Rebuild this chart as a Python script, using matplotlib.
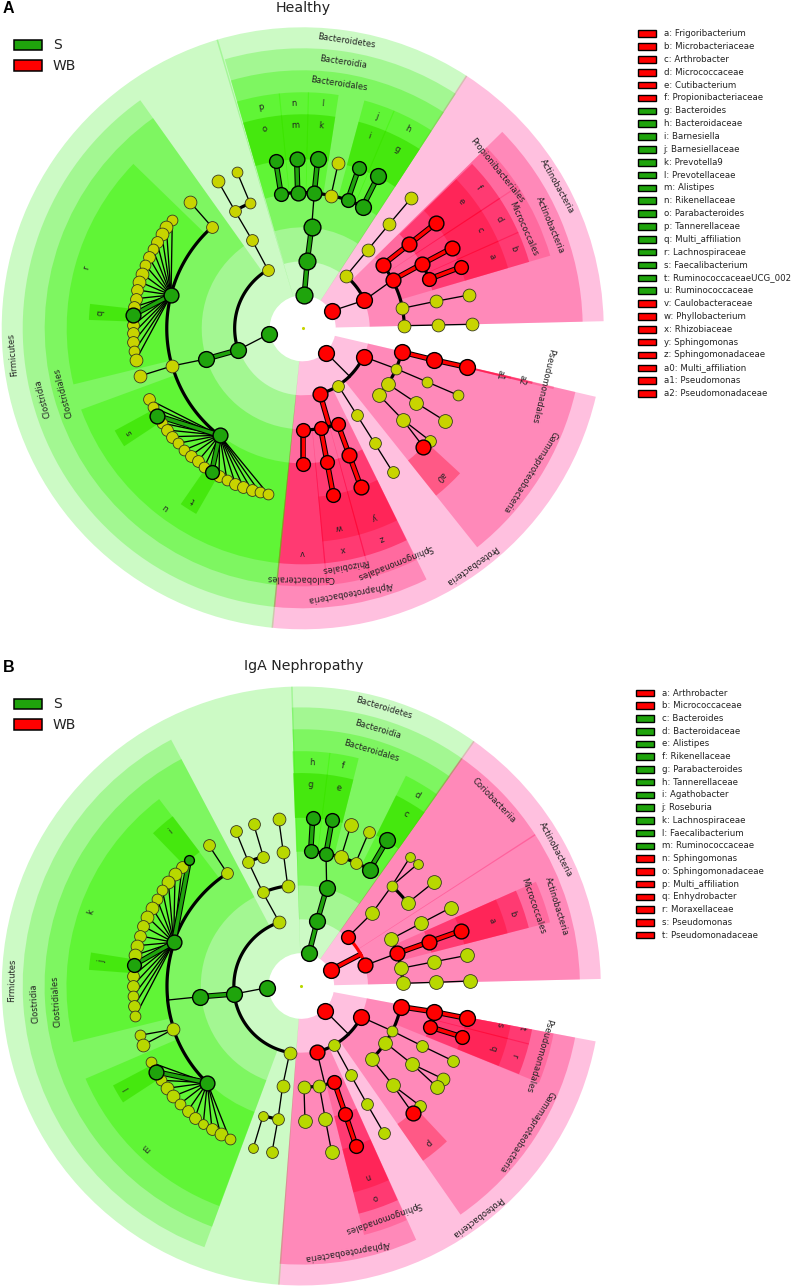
import numpy as np
import matplotlib
matplotlib.use("Agg")
import matplotlib.pyplot as plt
from matplotlib.patches import Wedge, Rectangle

# ring edges of the cladogram: level -> inner, outer radius
radii = {1: (33, 301), 2: (67, 280), 3: (101, 258), 4: (135, 236), 5: (169, 214)}

# wedges are (from, to, group), degrees clockwise from east
a_phyla = [(-106.5, -57, "S"), (-57, -1.5, "WB"), (13.3, 95.8, "WB"), (95.8, 253.5, "S")]
a_classes = [(-106, -57, "S"), (-44.4, -1.5, "WB"), (13.3, 51.3, "WB"), (63.9, 95.8, "WB"), (95.8, 234.4, "S")]
a_orders = [(-106, -57, "S"), (-44.4, -33.4, "WB"), (-33.4, -16.5, "WB"), (13.2, 13.5, "WB"),
            (64, 74.7, "WB"), (74.7, 84.6, "WB"), (84.6, 95.8, "WB"), (95.8, 234.4, "S")]
a_families = [(-106, -95.7, "S"), (-95.7, -88.6, "S"), (-88.6, -81.4, "S"), (-74.7, -67.2, "S"), (-67.2, -57, "S"),
              (-44, -33.4, "WB"), (-33.4, -24, "WB"), (-24, -16.5, "WB"), (13.2, 13.5, "WB"),
              (64, 74.7, "WB"), (74.7, 84.6, "WB"), (84.6, 95.8, "WB"), (95.8, 159.7, "S"), (166.4, 224, "S")]
a_genera = [(-106, -95.7, "S"), (-95.7, -88.6, "S"), (-88.6, -81.4, "S"), (-74.7, -67.2, "S"), (-67.2, -57, "S"),
            (-44, -33.4, "WB"), (-33.4, -24, "WB"), (-24, -16.5, "WB"), (13.2, 13.5, "WB"), (42.8, 51.3, "WB"),
            (64, 74.7, "WB"), (74.7, 84.6, "WB"), (120, 124.6, "S"), (146.7, 151.3, "S"), (182.4, 186.4, "S")]

b_phyla = [(-91.8, -54.8, "S"), (-54.8, -1.5, "WB"), (10.8, 94.3, "WB"), (94.3, 268.2, "S")]
b_classes = [(-91.8, -54.8, "S"), (-54.8, -32.9, "WB"), (-32.9, -1.5, "WB"), (10.8, 55, "WB"), (65.8, 94.3, "WB"), (110.5, 242, "S")]
b_orders = [(-91.8, -54.8, "S"), (-23.8, -14.5, "WB"), (10.8, 22, "WB"), (65.9, 75.7, "WB"), (110.5, 242, "S")]
b_families = [(-92, -83, "S"), (-83, -76, "S"), (-63.4, -54.8, "S"), (-23.8, -14.5, "WB"), (10.8, 14.3, "WB"),
              (14.3, 21.9, "WB"), (65.9, 75.7, "WB"), (110.6, 156.6, "S"), (166.3, 232.6, "S")]
b_genera = [(-92, -83, "S"), (-83, -76, "S"), (-63.4, -54.8, "S"), (-23.8, -14.5, "WB"), (10.8, 14.3, "WB"),
            (14.3, 21.9, "WB"), (47, 55, "WB"), (65.9, 75.7, "WB"), (147, 152, "S"), (184.5, 188.9, "S"), (226, 232.7, "S")]

# nodes are (name, x, y, size, group)
a_nodes_bact = [("b0", 304.3, 295, 16, "S"), ("b1", 307.3, 260.7, 16, "S"), ("b2", 311.7, 226.7, 16, "S"),
                ("p", 281, 194, 13, "S"), ("n", 297.7, 192.7, 14, "S"), ("l", 314.3, 193, 14, "S"),
                ("y1", 331, 195.7, 12, "N"), ("j", 347.7, 200, 13, "S"), ("h", 362.7, 206.7, 15, "S"),
                ("o", 275.7, 160.7, 13, "S"), ("m", 296.7, 158.7, 14, "S"), ("k", 317.7, 159.3, 15, "S"),
                ("y2", 338.3, 162.7, 12, "N"), ("i", 358.7, 168.3, 13, "S"), ("g", 378, 176.3, 15, "S")]
a_links_bact = [("b0", "b1", "S"), ("b1", "b2", "S"), ("b2", "l", "t"), ("p", "n", "a"), ("n", "l", "a"),
                ("l", "y1", "a"), ("y1", "j", "a"), ("j", "h", "a"), ("p", "o", "S"), ("n", "m", "S"),
                ("l", "k", "S"), ("y1", "y2", "t"), ("j", "i", "S"), ("h", "g", "S")]

a_nodes_firm = [("f0", 269, 334, 15, "S"), ("f1", 238, 350, 15, "S"), ("f2", 206, 359, 15, "S"),
                ("f3", 172, 366, 12, "N"), ("f4", 140, 376, 12, "N"), ("c1", 268, 270, 11, "N"),
                ("c2", 252, 240, 11, "N"), ("c3", 235, 211, 11, "N"), ("c4", 250, 203, 10, "N"),
                ("c5", 218, 181, 12, "N"), ("c6", 237, 172, 10, "N"), ("lach", 171, 295, 14, "S"),
                ("e1", 212, 227, 11, "N"), ("e2", 190, 202, 12, "N"), ("rumi", 219.7, 435.3, 14, "S")]
a_links_firm = [("f0", "f1", "t"), ("f1", "f2", "S"), ("f2", "f3", "t"), ("f3", "f4", "t"), ("f1", "c1", "a"),
                ("c1", "c2", "t"), ("c2", "c3", "t"), ("c3", "c5", "t"), ("c3", "c4", "a"), ("c4", "c6", "t"),
                ("f3", "lach", "a"), ("lach", "e1", "a"), ("e1", "e2", "t"), ("f3", "rumi", "a")]
a_fan_lach = [(172.3, 220, 10, "N"), (166.3, 227, 12, "N"), (161.7, 234.3, 12, "N"), (156.7, 241.7, 11, "N"),
              (152.7, 249.3, 10, "N"), (148.7, 257, 11, "N"), (145.3, 265.3, 10, "N"), (142, 273.7, 12, "N"),
              (139.3, 281.7, 12, "N"), (137.3, 290, 11, "N"), (135.7, 298.7, 11, "N"), (134.3, 307, 11, "N"),
              (133.3, 325, 11, "N"), (133.3, 333.3, 11, "N"), (133.3, 342.3, 11, "N"), (134.3, 351.3, 10, "N"),
              (136, 360, 12, "N"), (133.3, 315, 14, "S")]
a_fan_rumi = [(148.7, 399.3, 11, "N"), (153, 407.3, 10, "N"), (162, 423, 10, "N"), (167, 430, 11, "N"),
              (172.3, 436.7, 11, "N"), (178, 443.3, 10, "N"), (184.3, 450, 10, "N"), (190.7, 455.7, 11, "N"),
              (197.7, 461.3, 11, "N"), (204.3, 466.7, 10, "N"), (219, 476, 11, "N"), (227, 480.3, 10, "N"),
              (235.3, 483.7, 11, "N"), (243.3, 487, 11, "N"), (251.7, 490, 11, "N"), (259.7, 492.3, 10, "N"),
              (268.3, 494.3, 10, "N"), (157.3, 415.7, 14, "S"), (211.7, 471.7, 13, "S")]

a_nodes_actino = [("a0", 331.7, 311, 15, "WB"), ("a1", 364.3, 300.3, 15, "WB"), ("y0", 346, 276, 12, "N"),
                  ("y1", 367.7, 250, 12, "N"), ("y2", 389.3, 224, 12, "N"), ("y3", 411.3, 198, 12, "N"),
                  ("mic", 392.7, 280, 14, "WB"), ("pro", 382.7, 265, 14, "WB"), ("y4", 402.3, 308.3, 12, "N"),
                  ("y5", 404.3, 325.7, 12, "N"), ("f", 409, 244.3, 14, "WB"), ("e", 435.7, 223.3, 14, "WB"),
                  ("d", 422, 264, 14, "WB"), ("c", 452, 248, 14, "WB"), ("b", 429.3, 279, 13, "WB"), ("a", 461, 267, 13, "WB"),
                  ("y6", 435.7, 301.3, 12, "N"), ("y7", 469, 295, 12, "N"), ("y8", 438.3, 325, 12, "N"), ("y9", 472, 324.3, 12, "N")]
a_links_actino = [("a0", "a1", "t"), ("a1", "y0", "a"), ("y0", "y1", "t"), ("y1", "y2", "t"), ("y2", "y3", "t"),
                  ("a1", "mic", "t"), ("mic", "pro", "a"), ("mic", "y4", "a"), ("y4", "y5", "a"), ("pro", "f", "WB"),
                  ("f", "e", "WB"), ("mic", "d", "WB"), ("d", "c", "WB"), ("d", "b", "a"), ("b", "a", "WB"),
                  ("y4", "y6", "t"), ("y6", "y7", "t"), ("y5", "y8", "t"), ("y8", "y9", "t")]

a_nodes_proteo = [("p0", 326, 352.7, 15, "WB"), ("hub", 349.3, 376, 0, "N"), ("gam", 363.7, 356.7, 15, "WB"),
                  ("alp", 320, 393.7, 14, "WB"), ("y0", 338.3, 385.7, 11, "N"), ("pse", 401.7, 352, 15, "WB"),
                  ("y1", 396, 368.7, 10, "N"), ("y2", 388, 384, 13, "N"), ("y3", 379, 395, 13, "N"),
                  ("y4", 427.3, 382, 10, "N"), ("y5", 458.3, 395.3, 10, "N"), ("a1", 434.3, 360, 15, "WB"),
                  ("a2", 467.3, 367.3, 15, "WB"), ("y6", 416, 402.7, 13, "N"), ("y7", 444.7, 420.7, 13, "N"),
                  ("y8", 402.7, 419.7, 13, "N"), ("y9", 430, 440.7, 11, "N"), ("a0", 423.3, 446.7, 14, "WB"),
                  ("v1", 330, 428.3, 0, "N"), ("cau", 303.3, 430, 13, "WB"), ("rhi", 320.7, 428.3, 13, "WB"),
                  ("sph", 337.7, 423.7, 13, "WB"), ("v", 303.3, 464, 13, "WB"), ("x", 327, 461.7, 13, "WB"),
                  ("z", 349.3, 455.3, 14, "WB"), ("w", 333.3, 495, 13, "WB"), ("y", 361, 487.3, 14, "WB"),
                  ("y10", 356.7, 414.7, 11, "N"), ("y11", 374.7, 443.3, 11, "N"), ("y12", 392.7, 472, 11, "N")]
a_links_proteo = [("p0", "hub", "t"), ("alp", "y0", "a"), ("y0", "hub", "a"), ("hub", "gam", "a"), ("gam", "y1", "t"),
                  ("pse", "y1", "a"), ("y1", "y2", "a"), ("y2", "y3", "a"), ("y1", "y4", "t"), ("y4", "y5", "t"),
                  ("pse", "a1", "WB"), ("a1", "a2", "WB"), ("y2", "y6", "t"), ("y6", "y7", "t"), ("y3", "y8", "t"),
                  ("y8", "y9", "t"), ("y8", "a0", "t"), ("alp", "v1", "WB"), ("cau", "sph", "a"), ("cau", "v", "WB"),
                  ("rhi", "x", "WB"), ("x", "w", "WB"), ("sph", "z", "WB"), ("z", "y", "WB"), ("y0", "y10", "t"),
                  ("y10", "y11", "t"), ("y11", "y12", "t")]

b_nodes_bact = [("b0", 309, 953.3, 15, "S"), ("b1", 317.3, 920.7, 15, "S"), ("b2", 326.7, 888, 15, "S"),
                ("h", 310.7, 851.3, 13, "S"), ("f", 326, 853.7, 13, "S"), ("y1", 341, 857.3, 13, "N"),
                ("y2", 355.7, 862.7, 11, "N"), ("d", 369.7, 869.7, 15, "S"), ("g", 312.7, 817.7, 13, "S"),
                ("e", 332, 820.3, 13, "S"), ("y3", 351, 824.7, 13, "N"), ("y4", 369, 831.7, 11, "N"), ("c", 387, 840.3, 15, "S")]
b_links_bact = [("b0", "b1", "S"), ("b1", "b2", "S"), ("b2", "f", "t"), ("h", "f", "a"), ("f", "y1", "a"),
                ("y1", "y2", "a"), ("y2", "d", "a"), ("h", "g", "S"), ("f", "e", "S"), ("y1", "y3", "t"),
                ("y2", "y4", "t"), ("d", "c", "S")]

b_nodes_firm = [("f0", 267.3, 987.7, 15, "S"), ("f1", 234.3, 994, 15, "S"), ("f2", 200.3, 996.7, 15, "S"),
                ("v1", 168.3, 1000, 0, "N"), ("lach", 173.7, 942.3, 14, "S"), ("rumi", 207.3, 1082.7, 14, "S"),
                ("e1", 227.3, 873.3, 11, "N"), ("e2", 173.3, 1029.3, 12, "N"), ("e3", 208.7, 845, 11, "N"),
                ("e4", 139.7, 1035.3, 10, "N"), ("e5", 143, 1045, 12, "N"), ("c1", 279.3, 922.3, 12, "N"),
                ("c2", 289.7, 1052.7, 12, "N"), ("c3", 262.7, 892.3, 11, "N"), ("c4", 248.3, 861.7, 11, "N"),
                ("c5", 235.7, 830.7, 11, "N"), ("c6", 287.7, 886, 12, "N"), ("c7", 283.3, 852.3, 12, "N"),
                ("c8", 278.7, 819, 12, "N"), ("c9", 263.3, 856.7, 11, "N"), ("c10", 253.7, 824.3, 11, "N"),
                ("c11", 282.7, 1085.7, 12, "N"), ("c12", 278, 1119, 11, "N"), ("c13", 272, 1152.3, 11, "N"),
                ("c14", 263, 1115.7, 9, "N"), ("c15", 253.3, 1148, 9, "N")]
b_links_firm = [("f0", "f1", "t"), ("f1", "f2", "S"), ("f2", "v1", "t"), ("v1", "lach", "a"), ("v1", "e2", "a"),
                ("e2", "rumi", "a"), ("lach", "e1", "a"), ("e1", "e3", "t"), ("e2", "e4", "t"), ("e2", "e5", "t"),
                ("f1", "c1", "a"), ("f1", "c2", "a"), ("c1", "c3", "t"), ("c3", "c4", "t"), ("c4", "c5", "t"),
                ("c3", "c6", "a"), ("c6", "c7", "t"), ("c7", "c8", "t"), ("c4", "c9", "a"), ("c9", "c10", "t"),
                ("c2", "c11", "t"), ("c11", "c12", "t"), ("c12", "c13", "t"), ("c12", "c14", "a"), ("c14", "c15", "t")]
b_fan_lach = [(182, 867, 11, "N"), (175, 874.3, 12, "N"), (168.3, 882, 12, "N"), (162.3, 890.3, 10, "N"),
              (157, 899, 10, "N"), (152, 907.7, 12, "N"), (147.3, 916.7, 12, "N"), (143.3, 926.3, 11, "N"),
              (140.3, 936, 11, "N"), (137.3, 945.7, 12, "N"), (135, 955.3, 12, "N"), (133, 975.7, 11, "N"),
              (132.7, 985.7, 11, "N"), (133, 996.3, 10, "N"), (133.7, 1006.3, 11, "N"), (135.3, 1016.3, 10, "N"),
              (189.3, 860, 9, "S"), (134, 965, 13, "S")]
b_fan_rumi = [(150.7, 1062.3, 10, "N"), (161, 1080.3, 10, "N"), (167, 1088.3, 12, "N"), (173.3, 1096.3, 12, "N"),
              (180.3, 1103.7, 10, "N"), (187.7, 1111, 11, "N"), (195, 1117.7, 11, "N"), (203.3, 1123.7, 9, "N"),
              (212, 1129.3, 11, "N"), (220.7, 1134.3, 12, "N"), (229.7, 1139, 10, "N"), (155.7, 1071.7, 14, "S")]

b_nodes_actino = [("a0", 330.7, 970, 15, "WB"), ("a1", 365.3, 965.3, 14, "WB"), ("cor", 347.7, 937.3, 13, "WB"),
                  ("v1", 362, 953.7, 0, "N"), ("y0", 372, 913.3, 13, "N"), ("y1", 391.7, 886, 10, "N"),
                  ("y2", 410, 857.3, 9, "N"), ("y3", 417.7, 864, 9, "N"), ("y4", 407.7, 903, 13, "N"),
                  ("y5", 434, 882, 13, "N"), ("mic", 397.3, 953.3, 14, "WB"), ("y6", 391, 939, 13, "N"),
                  ("y7", 401, 968.3, 13, "N"), ("y8", 402.7, 983.3, 13, "N"), ("b", 429, 942, 14, "WB"),
                  ("a", 461, 930.7, 14, "WB"), ("y9", 421, 923.3, 13, "N"), ("y10", 450.7, 907.7, 13, "N"),
                  ("y11", 434.3, 961.7, 13, "N"), ("y12", 467.3, 955.3, 13, "N"), ("y13", 436.3, 982.3, 13, "N"),
                  ("y14", 470, 981, 13, "N")]
b_links_actino = [("a0", "v1", "WB"), ("cor", "a1", "WBa"), ("cor", "y0", "t"), ("y0", "y1", "t"), ("y1", "y2", "t"),
                  ("y1", "y3", "t"), ("y1", "y4", "a"), ("y4", "y5", "t"), ("a1", "mic", "t"), ("y6", "mic", "a"),
                  ("mic", "y7", "a"), ("y7", "y8", "a"), ("mic", "b", "WB"), ("b", "a", "WB"), ("y6", "y9", "t"),
                  ("y9", "y10", "t"), ("y7", "y11", "t"), ("y11", "y12", "t"), ("y8", "y13", "t"), ("y13", "y14", "t")]

b_nodes_proteo = [("p0", 325, 1010.7, 15, "WB"), ("hub", 348.3, 1034, 0, "N"), ("gam", 361.3, 1017, 15, "WB"),
                  ("alp", 317, 1051.7, 14, "WB"), ("y0", 334.3, 1045, 11, "N"), ("pse", 400.7, 1006.7, 15, "WB"),
                  ("y1", 392.3, 1031, 10, "N"), ("y2", 385.3, 1042.7, 13, "N"), ("y3", 371.7, 1059, 13, "N"),
                  ("y4", 422.3, 1046, 11, "N"), ("y5", 452.7, 1060.7, 11, "N"), ("t", 433.7, 1011.7, 15, "WB"),
                  ("s", 467, 1018.3, 15, "WB"), ("r", 430.3, 1027, 13, "WB"), ("q", 462.3, 1037, 13, "WB"),
                  ("y6", 412, 1064, 13, "N"), ("y7", 442.7, 1078.7, 12, "N"), ("y8", 437, 1087, 13, "N"),
                  ("y9", 393, 1085.3, 13, "N"), ("y10", 420.3, 1106, 11, "N"), ("p", 412.7, 1113.3, 14, "WB"),
                  ("v1", 325, 1085, 0, "N"), ("y11", 304, 1087.3, 12, "N"), ("y12", 319.3, 1085.7, 12, "N"),
                  ("sph", 334.3, 1082, 13, "WB"), ("y13", 305, 1121.3, 13, "N"), ("y14", 325.3, 1119, 13, "N"),
                  ("y15", 331.7, 1152.3, 13, "N"), ("o", 345.3, 1114, 13, "WB"), ("n", 356, 1145.7, 13, "WB"),
                  ("y16", 350.7, 1075, 11, "N"), ("y17", 367, 1104, 11, "N"), ("y18", 384, 1133.3, 11, "N")]
b_links_proteo = [("p0", "hub", "t"), ("alp", "y0", "a"), ("y0", "hub", "a"), ("hub", "gam", "a"), ("gam", "y1", "t"),
                  ("pse", "y1", "a"), ("y1", "y2", "a"), ("y2", "y3", "a"), ("y1", "y4", "t"), ("y4", "y5", "t"),
                  ("pse", "t", "WB"), ("t", "s", "WB"), ("t", "r", "a"), ("r", "q", "WB"), ("y2", "y6", "t"),
                  ("y6", "y7", "t"), ("y6", "y8", "t"), ("y3", "y9", "t"), ("y9", "y10", "t"), ("y9", "p", "t"),
                  ("alp", "v1", "t"), ("y11", "y12", "a"), ("y12", "sph", "a"), ("y11", "y13", "t"), ("y12", "y14", "t"),
                  ("y14", "y15", "t"), ("sph", "o", "WB"), ("o", "n", "WB"), ("y0", "y16", "t"), ("y16", "y17", "t"),
                  ("y17", "y18", "t")]

# ring labels, text with the spot it sits at
a_label_names = ["Bacteroidetes", "Bacteroidia", "Bacteroidales", "j", "h", "i", "g", "l", "k", "p", "n", "o", "m",
                 "Actinobacteria", "Actinobacteria", "Propionibacteriales", "Micrococcales", "f", "e", "d", "c", "b", "a",
                 "Firmicutes", "Clostridia", "Clostridiales", "s", "t", "u", "r", "q",
                 "Pseudomonadales", "a1", "a2", "a0", "Gammaproteobacteria", "Proteobacteria", "Sphingomonadales",
                 "Rhizobiales", "Caulobacterales", "Alphaproteobacteria", "v", "w", "x", "y", "z"]
a_label_x = [346, 342.7, 339.3, 376.7, 407.7, 369.3, 397, 322.3, 320.7, 261, 294.3, 265, 295,
             556.7, 550, 497.3, 523.3, 479, 460.7, 499.3, 480, 513.3, 491.7,
             12.7, 43.3, 63.3, 129, 193, 166, 86, 100.7,
             542.7, 500, 521.7, 440.7, 530, 471.7, 395,
             345, 300, 350, 302.3, 338.3, 342.7, 374.3, 381.7]
a_label_y = [40.7, 62.3, 83.3, 115.7, 129, 136, 149.7, 104, 126, 107.3, 103.3, 129, 125.7,
             186.7, 225, 170.7, 229.3, 187.7, 201.7, 219.3, 230, 249, 256.7,
             354.3, 398.3, 392.7, 432, 500, 507, 268, 313,
             385.7, 375, 380, 476.7, 471.7, 565, 561.7,
             566, 578.3, 591.7, 552.7, 527.3, 549, 516.7, 538.3]

b_label_names = ["Bacteroidetes", "Bacteroidia", "Bacteroidales", "h", "f", "g", "e", "d", "c", "Coriobacteriia",
                 "Actinobacteria", "Actinobacteria", "Micrococcales", "b", "a", "s", "t", "Pseudomonadales",
                 "Gammaproteobacteria", "Proteobacteria", "q", "r", "p", "n", "o", "Sphingomonadales",
                 "Alphaproteobacteria", "Firmicutes", "Clostridia", "Clostridiales", "k", "j", "i", "l", "m"]
b_label_x = [384.3, 377.7, 371.7, 311.7, 342.3, 310.7, 338.3, 416.7, 405.7, 494,
             556, 556, 533.3, 512.7, 491.7, 500, 521.7, 538.3,
             526.7, 477.3, 492.7, 514.3, 428.3, 367.7, 375.3, 382.7,
             347.3, 12.5, 34.3, 56.7, 90.7, 101.7, 170.7, 126, 146.7]
b_label_y = [708.3, 729.3, 750.7, 762.7, 766, 785, 788.3, 795, 814, 800.7,
             849.3, 906.7, 906, 913.3, 920.7, 1024.3, 1028.3, 1056,
             1131.7, 1216.7, 1048.3, 1055.7, 1142.3, 1176.7, 1197.3, 1217.3,
             1250.7, 980, 1003, 1001.7, 911.7, 961.7, 831.7, 1088, 1147.7]

# key of each panel
a_key_names = ["a: Frigoribacterium", "b: Microbacteriaceae", "c: Arthrobacter", "d: Micrococcaceae", "e: Cutibacterium",
               "f: Propionibacteriaceae", "g: Bacteroides", "h: Bacteroidaceae", "i: Barnesiella", "j: Barnesiellaceae",
               "k: Prevotella9", "l: Prevotellaceae", "m: Alistipes", "n: Rikenellaceae", "o: Parabacteroides",
               "p: Tannerellaceae", "q: Multi_affiliation", "r: Lachnospiraceae", "s: Faecalibacterium",
               "t: RuminococcaceaeUCG_002", "u: Ruminococcaceae", "v: Caulobacteraceae", "w: Phyllobacterium",
               "x: Rhizobiaceae", "y: Sphingomonas", "z: Sphingomonadaceae", "a0: Multi_affiliation",
               "a1: Pseudomonas", "a2: Pseudomonadaceae"]
a_key_groups = ["WB"] * 6 + ["S"] * 15 + ["WB"] * 8
b_key_names = ["a: Arthrobacter", "b: Micrococcaceae", "c: Bacteroides", "d: Bacteroidaceae", "e: Alistipes",
               "f: Rikenellaceae", "g: Parabacteroides", "h: Tannerellaceae", "i: Agathobacter", "j: Roseburia",
               "k: Lachnospiraceae", "l: Faecalibacterium", "m: Ruminococcaceae", "n: Sphingomonas",
               "o: Sphingomonadaceae", "p: Multi_affiliation", "q: Enhydrobacter", "r: Moraxellaceae",
               "s: Pseudomonas", "t: Pseudomonadaceae"]
b_key_groups = ["WB"] * 2 + ["S"] * 11 + ["WB"] * 7

# (colour, alpha) of each ring level, stacked they give the picture's shades
wedge_colors = {
    "S": {1: ((31, 233, 0), 0.227), 2: ((43, 242, 0), 0.254), 3: ((52, 245, 0), 0.333),
          4: ((58, 245, 0), 0.44), 5: ((60, 228, 0), 0.73)},
    "WB": {1: ((255, 0, 129), 0.247), 2: ((255, 0, 89), 0.281), 3: ((255, 0, 70), 0.22),
           4: ((255, 0, 60), 0.45), 5: ((255, 0, 40), 0.35)},
}
fill_colors = {"S": "#1fa40c", "WB": "#ff0000"}


def draw_link(ax, p, q, kind, center):
    x = [p[0], q[0]]
    y = [p[1], q[1]]
    if kind in ("a", "WBa"):
        # sibling links follow the ring
        r = np.mean([np.hypot(p[0] - center[0], p[1] - center[1]), np.hypot(q[0] - center[0], q[1] - center[1])])
        t1 = np.arctan2(p[1] - center[1], p[0] - center[0])
        t2 = np.arctan2(q[1] - center[1], q[0] - center[0])
        dt = (t2 - t1 + np.pi) % (2 * np.pi) - np.pi
        t = t1 + dt * np.linspace(0, 1, 40)
        x = center[0] + r * np.cos(t)
        y = center[1] + r * np.sin(t)
    if kind == "t":
        ax.plot(x, y, color="black", lw=0.95, zorder=3)
    elif kind == "a":
        ax.plot(x, y, color="black", lw=2.3, zorder=3, solid_capstyle="round")
    elif kind == "WBa":
        ax.plot(x, y, color="red", lw=2.3, zorder=3, solid_capstyle="round")
    else:
        ax.plot(x, y, color="black", lw=4.0, zorder=3, solid_capstyle="butt")
        ax.plot(x, y, color=fill_colors[kind], lw=2.5, zorder=3, solid_capstyle="butt")


def draw_panel(ax, center, scale, rings, nodes, links, fans, labels, yellow):
    cx, cy = center
    for level, spans in rings.items():
        r1, r2 = radii[level]
        for t1, t2, group in spans:
            rgb, alpha = wedge_colors[group][level]
            ax.add_patch(Wedge(center, r2 * scale, t1 - 0.15, t2 + 0.15, width=(r2 - r1) * scale,
                               fc=np.array(rgb) / 255, alpha=alpha, lw=0, zorder=1))

    for clade, clade_links in zip(nodes, links):
        pos = {n[0]: (n[1], n[2]) for n in clade}
        for u, v, kind in clade_links:
            draw_link(ax, pos[u], pos[v], kind, center)
    for parent, fan in fans:
        for x, y, d, group in fan:
            draw_link(ax, parent, (x, y), "t" if group == "N" else group, center)

    all_nodes = [(n[1], n[2], n[3], n[4]) for clade in nodes for n in clade]
    all_nodes += [pt for _, fan in fans for pt in fan]
    for i, (x, y, d, group) in enumerate(all_nodes):
        if d == 0:
            continue
        size = ((d + 0.8) * 0.72) ** 2
        if group == "N":
            ax.scatter(x, y, s=size, color=yellow, edgecolor="#3a3a20", linewidth=0.6, zorder=4)
        else:
            ax.scatter(x, y, s=size, color=fill_colors[group], edgecolor="black", linewidth=1.0, zorder=5)
    ax.scatter(cx, cy, s=5, color=yellow, lw=0, zorder=4)

    for name, x, y in zip(*labels):
        rot = -np.degrees(np.arctan2(y - cy, x - cx)) - 90
        ax.text(x, y, name, fontsize=6.0, rotation=rot, rotation_mode="anchor", ha="center", va="center",
                color="#222222", zorder=6)


def draw_key(ax, x, y0, dy, names, groups):
    for i, (name, group) in enumerate(zip(names, groups)):
        y = y0 + i * dy
        ax.add_patch(Rectangle((x, y - 3.3), 18, 6.6, fc=fill_colors[group], ec="black", lw=1.0, zorder=2))
        ax.text(x + 26, y, name, fontsize=6.2, va="center", ha="left", color="#222222")


def draw_groups(ax, y_s, y_wb):
    for y, name, group in [(y_s, "S", "S"), (y_wb, "WB", "WB")]:
        ax.add_patch(Rectangle((13.5, y - 5.3), 28.5, 10.6, fc=fill_colors[group], ec="black", lw=1.1, zorder=2))
        ax.text(53, y, name, fontsize=10, va="center", ha="left", color="#222222")


fig = plt.figure(figsize=(7.92, 12.88), dpi=100)
ax = fig.add_axes([0, 0, 1, 1])
ax.set_xlim(0, 792)
ax.set_ylim(1288, 0)
ax.axis("off")

draw_panel(ax, (302.7, 328.3), 1.0,
           {1: a_phyla, 2: a_classes, 3: a_orders, 4: a_families, 5: a_genera},
           [a_nodes_bact, a_nodes_firm, a_nodes_actino, a_nodes_proteo],
           [a_links_bact, a_links_firm, a_links_actino, a_links_proteo],
           [((171, 295), a_fan_lach), ((219.7, 435.3), a_fan_rumi)],
           (a_label_names, a_label_x, a_label_y), "#c8d400")
draw_panel(ax, (301.3, 986), 0.995,
           {1: b_phyla, 2: b_classes, 3: b_orders, 4: b_families, 5: b_genera},
           [b_nodes_bact, b_nodes_firm, b_nodes_actino, b_nodes_proteo],
           [b_links_bact, b_links_firm, b_links_actino, b_links_proteo],
           [((173.7, 942.3), b_fan_lach), ((207.3, 1082.7), b_fan_rumi)],
           (b_label_names, b_label_x, b_label_y), "#b8d800")

draw_key(ax, 637.5, 33.7, 12.85, a_key_names, a_key_groups)
draw_key(ax, 635.5, 693, 12.74, b_key_names, b_key_groups)
draw_groups(ax, 45, 65.5)
draw_groups(ax, 704, 724.5)

ax.text(303.5, 8, "Healthy", fontsize=10.2, ha="center", va="center", color="#222222")
ax.text(303.5, 666, "IgA Nephropathy", fontsize=10.2, ha="center", va="center", color="#222222")
ax.text(3, 8, "A", fontsize=11.5, fontweight="bold", family="Liberation Sans", ha="left", va="center")
ax.text(3, 667, "B", fontsize=11.5, fontweight="bold", family="Liberation Sans", ha="left", va="center")

fig.savefig("out.png", dpi=100)
